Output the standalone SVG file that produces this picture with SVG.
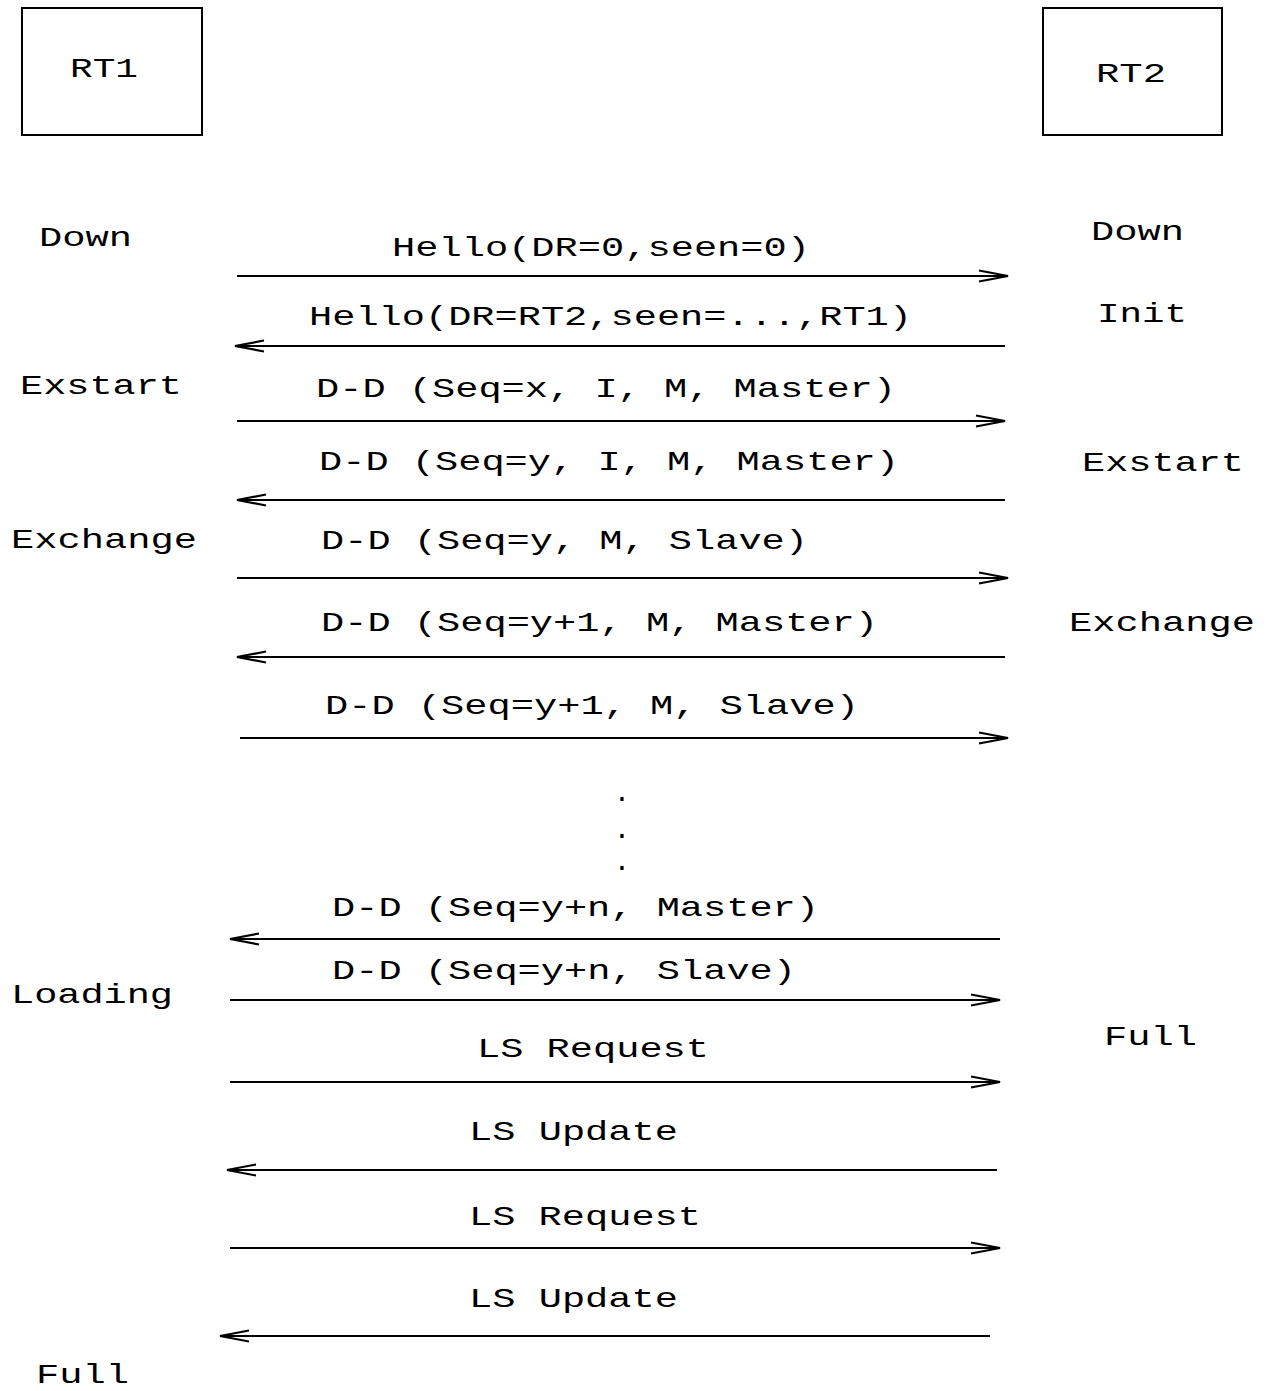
<svg xmlns="http://www.w3.org/2000/svg" width="1267" height="1391" viewBox="0 0 1267 1391">
<style>
.t{font-family:"Liberation Mono","Courier New",monospace;font-size:28px;fill:#000}
.box{fill:#fff;stroke:#000;stroke-width:2}
.msg{stroke:#000;stroke-width:2;fill:none;marker-end:url(#ah)}
</style>
<defs>
<marker id="ah" markerUnits="userSpaceOnUse" markerWidth="34" markerHeight="14" refX="29" refY="6" orient="auto" overflow="visible">
<path d="M0,0.5 L29,6 L0,11.5" fill="none" stroke="#000" stroke-width="2.2"/>
</marker>
</defs>
<rect width="1267" height="1391" fill="#fff"/>
<g id="RT1"><rect class="box" x="22" y="8" width="180" height="127"/><text class="t" x="70" y="77" textLength="68" lengthAdjust="spacingAndGlyphs">RT1</text></g>
<g id="RT2"><rect class="box" x="1043" y="8" width="179" height="127"/><text class="t" x="1096" y="82" textLength="70" lengthAdjust="spacingAndGlyphs">RT2</text></g>
<g id="states">
<text class="t" x="39" y="246" textLength="93" lengthAdjust="spacingAndGlyphs">Down</text>
<text class="t" x="1091" y="240" textLength="93" lengthAdjust="spacingAndGlyphs">Down</text>
<text class="t" x="1097" y="322" textLength="90" lengthAdjust="spacingAndGlyphs">Init</text>
<text class="t" x="20" y="394" textLength="162" lengthAdjust="spacingAndGlyphs">Exstart</text>
<text class="t" x="1082" y="471" textLength="162" lengthAdjust="spacingAndGlyphs">Exstart</text>
<text class="t" x="11" y="548" textLength="186" lengthAdjust="spacingAndGlyphs">Exchange</text>
<text class="t" x="1069" y="631" textLength="186" lengthAdjust="spacingAndGlyphs">Exchange</text>
<text class="t" x="11" y="1003" textLength="162" lengthAdjust="spacingAndGlyphs">Loading</text>
<text class="t" x="1104" y="1045" textLength="93" lengthAdjust="spacingAndGlyphs">Full</text>
<text class="t" x="36" y="1383" textLength="93" lengthAdjust="spacingAndGlyphs">Full</text>
</g>
<g id="labels">
<text class="t" x="392" y="256" textLength="418" lengthAdjust="spacingAndGlyphs">Hello(DR=0,seen=0)</text>
<text class="t" x="309" y="325" textLength="603" lengthAdjust="spacingAndGlyphs">Hello(DR=RT2,seen=...,RT1)</text>
<text class="t" x="316" y="397" textLength="580" lengthAdjust="spacingAndGlyphs">D-D (Seq=x, I, M, Master)</text>
<text class="t" x="319" y="470" textLength="580" lengthAdjust="spacingAndGlyphs">D-D (Seq=y, I, M, Master)</text>
<text class="t" x="321" y="549" textLength="487" lengthAdjust="spacingAndGlyphs">D-D (Seq=y, M, Slave)</text>
<text class="t" x="321" y="631" textLength="557" lengthAdjust="spacingAndGlyphs">D-D (Seq=y+1, M, Master)</text>
<text class="t" x="325" y="714" textLength="534" lengthAdjust="spacingAndGlyphs">D-D (Seq=y+1, M, Slave)</text>
<text class="t" x="622" y="801" text-anchor="middle">.</text>
<text class="t" x="622" y="838" text-anchor="middle">.</text>
<text class="t" x="622" y="870" text-anchor="middle">.</text>
<text class="t" x="332" y="916" textLength="487" lengthAdjust="spacingAndGlyphs">D-D (Seq=y+n, Master)</text>
<text class="t" x="332" y="979" textLength="464" lengthAdjust="spacingAndGlyphs">D-D (Seq=y+n, Slave)</text>
<text class="t" x="477" y="1057" textLength="232" lengthAdjust="spacingAndGlyphs">LS Request</text>
<text class="t" x="469" y="1140" textLength="209" lengthAdjust="spacingAndGlyphs">LS Update</text>
<text class="t" x="469" y="1225" textLength="232" lengthAdjust="spacingAndGlyphs">LS Request</text>
<text class="t" x="469" y="1307" textLength="209" lengthAdjust="spacingAndGlyphs">LS Update</text>
</g>
<g id="connectors">
<line class="msg" x1="237" y1="276" x2="1008" y2="276"/>
<line class="msg" x1="1005" y1="346" x2="235" y2="346"/>
<line class="msg" x1="237" y1="421" x2="1005" y2="421"/>
<line class="msg" x1="1005" y1="500" x2="237" y2="500"/>
<line class="msg" x1="237" y1="578" x2="1008" y2="578"/>
<line class="msg" x1="1005" y1="657" x2="237" y2="657"/>
<line class="msg" x1="240" y1="738" x2="1008" y2="738"/>
<line class="msg" x1="1000" y1="939" x2="230" y2="939"/>
<line class="msg" x1="230" y1="1000" x2="1000" y2="1000"/>
<line class="msg" x1="230" y1="1082" x2="1000" y2="1082"/>
<line class="msg" x1="997" y1="1170" x2="227" y2="1170"/>
<line class="msg" x1="230" y1="1248" x2="1000" y2="1248"/>
<line class="msg" x1="990" y1="1336" x2="220" y2="1336"/>
</g>
</svg>
